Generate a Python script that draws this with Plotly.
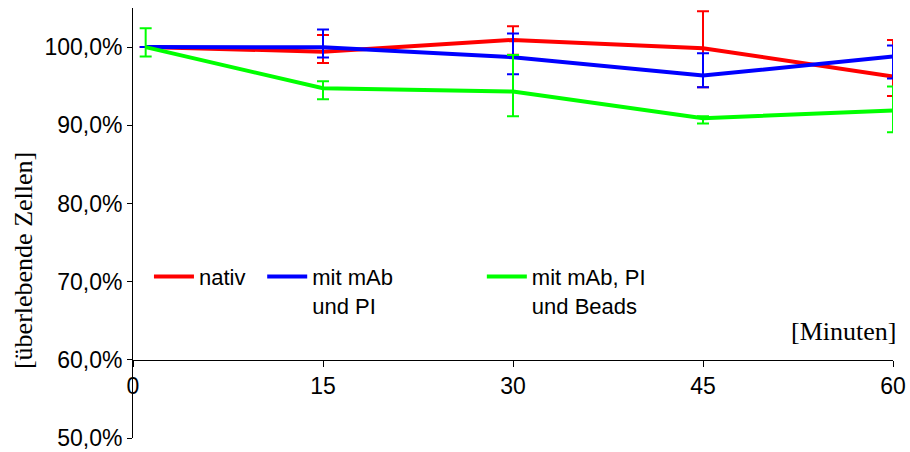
import plotly.graph_objects as go

minutes = [1, 15, 30, 45, 60]

nativ = [100.0, 99.42, 100.92, 99.85, 96.23]
nativ_plus = [0.0, 2.14, 1.74, 4.73, 4.69]
nativ_minus = [0.0, 1.44, 1.90, 4.99, 2.47]

mab_pi = [100.0, 99.97, 98.70, 96.36, 98.79]
mab_pi_plus = [0.0, 2.27, 3.03, 2.85, 1.40]
mab_pi_minus = [0.0, 1.31, 2.18, 1.50, 2.80]

mab_pi_beads = [100.0, 94.73, 94.31, 90.90, 91.88]
mab_pi_beads_plus = [2.40, 0.90, 4.69, 0.25, 3.07]
mab_pi_beads_minus = [1.21, 1.41, 3.16, 0.68, 2.78]

series_names = ["nativ", "mit mAb<br>und PI", "mit mAb, PI<br>und Beads"]
series_colors = ["#ff0000", "#0000ff", "#00ff00"]

y_ticks = [50, 60, 70, 80, 90, 100]
y_tick_labels = ["50,0%", "60,0%", "70,0%", "80,0%", "90,0%", "100,0%"]
x_ticks = [0, 15, 30, 45, 60]
x_tick_labels = ["0", "15", "30", "45", "60"]

SANS = "Liberation Sans, Arial, sans-serif"
SERIF = "Liberation Serif, Times New Roman, serif"

data = [
    (nativ, nativ_plus, nativ_minus),
    (mab_pi, mab_pi_plus, mab_pi_minus),
    (mab_pi_beads, mab_pi_beads_plus, mab_pi_beads_minus),
]
legend_ids = ["legend", "legend2", "legend3"]

fig = go.Figure()
for (vals, plus, minus), name, color, lg in zip(data, series_names, series_colors, legend_ids):
    fig.add_trace(go.Scatter(
        x=minutes, y=vals, mode="lines", name=name,
        line=dict(color=color, width=4),
        error_y=dict(type="data", symmetric=False, array=plus, arrayminus=minus,
                     color=color, thickness=2, width=6),
        legend=lg,
    ))

y_min, y_max = 50, 105
x_axis_pos = (60 - y_min) / (y_max - y_min)

legend_common = dict(
    orientation="v", xanchor="left", yanchor="top", valign="top",
    bgcolor="rgba(0,0,0,0)", borderwidth=0, itemwidth=40,
    font=dict(family=SANS, size=22, color="black"),
    tracegroupgap=0,
)

fig.update_layout(
    width=910, height=452,
    margin=dict(l=133, r=17, t=8, b=14, autoexpand=False),
    paper_bgcolor="white", plot_bgcolor="white",
    showlegend=True,
    legend=dict(x=0.021, y=0.424, **legend_common),
    legend2=dict(x=0.170, y=0.424, **legend_common),
    legend3=dict(x=0.459, y=0.424, **legend_common),
    xaxis=dict(
        range=[0, 60], tickvals=x_ticks, ticktext=x_tick_labels,
        showgrid=False, zeroline=False, showline=True, linecolor="black", linewidth=1,
        ticks="outside", ticklen=6, tickcolor="black", tickwidth=1,
        anchor="free", position=x_axis_pos, automargin=False,
        tickfont=dict(family=SANS, size=23, color="black"),
    ),
    yaxis=dict(
        range=[y_min, y_max], tickvals=y_ticks, ticktext=y_tick_labels,
        showgrid=False, zeroline=False, showline=True, linecolor="black", linewidth=1,
        ticks="outside", ticklen=5, tickcolor="black", tickwidth=1, automargin=False,
        tickfont=dict(family=SANS, size=23, color="black"),
    ),
    annotations=[
        dict(text="[überlebende Zellen]", xref="paper", yref="paper",
             x=-0.1447, y=0.4116, xanchor="center", yanchor="middle",
             textangle=-90, showarrow=False,
             font=dict(family=SERIF, size=26, color="black")),
        dict(text="[Minuten]", xref="paper", yref="paper",
             x=1.0066, y=0.2488, xanchor="right", yanchor="middle",
             showarrow=False,
             font=dict(family=SERIF, size=26, color="black")),
    ],
)

fig.write_html(
    "out.html",
    config={"displayModeBar": False},
    post_script="document.body.style.margin='0';document.body.style.overflow='hidden';",
)
